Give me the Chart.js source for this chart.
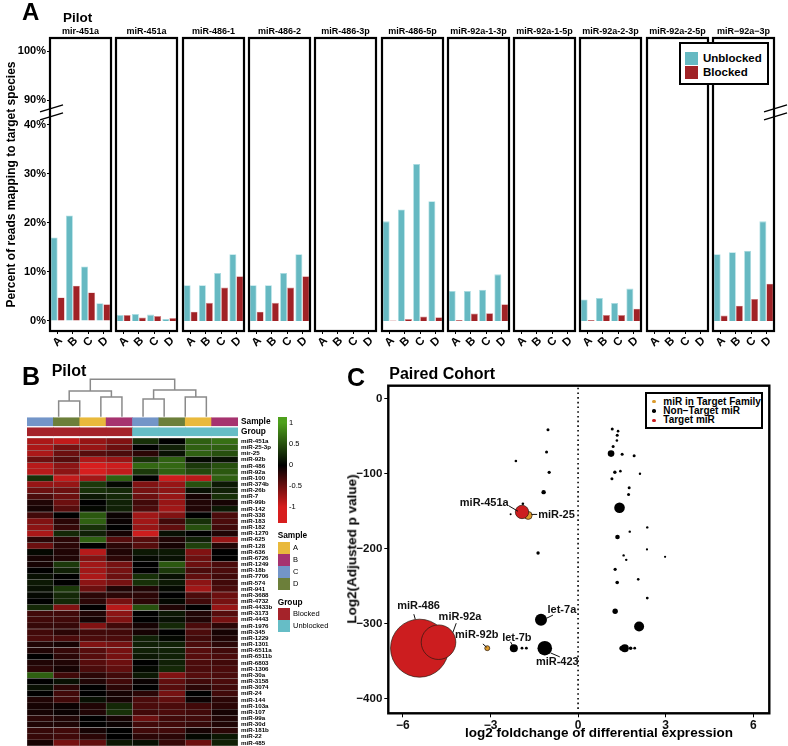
<!DOCTYPE html>
<html>
<head>
<meta charset="utf-8">
<title>Pilot / Paired Cohort</title>
<script src="https://cdn.jsdelivr.net/npm/chart.js@4.4.1/dist/chart.umd.min.js"></script>
<style>
  html, body { margin: 0; padding: 0; background: #fff; }
  body { position: relative; width: 788px; height: 746px; overflow: hidden;
         font-family: "Liberation Sans", Arial, Helvetica, sans-serif; color: #000; }
  canvas { position: absolute; }
  .txt { position: absolute; white-space: nowrap; line-height: 1; color: #000; }
  .box { position: absolute; box-sizing: border-box; border: 2px solid #000; background: #fff; }
  .sw { position: absolute; }
</style>
</head>
<body>
<script>
// ---------- A: percent of reads mapping to target species (pilot) ----------
const samples = ['A', 'B', 'C', 'D'];
const panelNames = ['mir-451a', 'miR-451a', 'miR-486-1', 'miR-486-2', 'miR-486-3p', 'miR-486-5p',
  'miR-92a-1-3p', 'miR-92a-1-5p', 'miR-92a-2-3p', 'miR-92a-2-5p', 'miR\u221292a\u22123p'];
const unblockedPct = [
  [17.0, 21.5, 11.1, 3.6], [1.2, 1.4, 1.3, 0.4], [7.3, 7.3, 9.8, 13.6], [7.3, 7.3, 9.8, 13.6],
  [0, 0, 0, 0], [20.3, 22.7, 32.0, 24.4], [6.1, 6.1, 6.35, 9.5], [0, 0, 0, 0],
  [4.4, 4.7, 3.65, 6.6], [0, 0, 0, 0], [13.6, 14.0, 14.3, 20.3]
];
const blockedPct = [
  [4.8, 7.2, 5.8, 3.4], [1.2, 0.7, 1.0, 0.6], [1.9, 3.7, 6.8, 9.1], [1.9, 3.7, 6.8, 9.1],
  [0, 0, 0, 0], [0.1, 0.4, 0.9, 0.75], [0.2, 1.5, 1.6, 3.4], [0, 0, 0, 0],
  [0.2, 1.2, 1.2, 2.5], [0, 0, 0, 0], [1.1, 3.1, 4.5, 7.6]
];
const pctTicks = [0, 10, 20, 30, 40, 90, 100];

// ---------- B: heatmap (pilot) ----------
const rowNames = ['miR-451a', 'miR-25-3p', 'mir-25', 'miR-92b', 'miR-486', 'miR-92a', 'miR-100', 'miR-374b',
  'miR-26b', 'miR-7', 'miR-99b', 'miR-142', 'miR-338', 'miR-183', 'miR-182', 'miR-1270', 'miR-625', 'miR-128',
  'miR-636', 'miR-6726', 'miR-1249', 'miR-18b', 'miR-7706', 'miR-574', 'miR-941', 'miR-3688', 'miR-4732',
  'miR-4433b', 'miR-3173', 'miR-4443', 'miR-1976', 'miR-345', 'miR-1229', 'miR-1301', 'miR-6511a', 'miR-6511b',
  'miR-6803', 'miR-1306', 'miR-30a', 'miR-3158', 'miR-3074', 'miR-24', 'miR-144', 'miR-103a', 'miR-107',
  'miR-99a', 'miR-30d', 'miR-181b', 'miR-22', 'miR-485'];
const heatValues = [
  [-0.8, -0.9, -0.7, -0.6, 0.3, 0, 0.6, 0.7],
  [-0.8, -0.55, -0.7, -0.5, 0, 0.2, 0.6, 0.6],
  [-0.8, -0.5, -0.4, -0.35, -0.2, 0.1, 0.6, 0.5],
  [-0.5, -0.4, -0.8, -0.7, 0.3, 0.6, 0.05, 0.1],
  [-0.85, -0.65, -1, -0.95, 0.65, 0.65, 0.35, 0.5],
  [-0.85, -0.65, -1, -0.9, 0.35, 0.6, 0.45, 0.55],
  [0.3, -0.9, -0.75, 0.6, 0, -0.95, -0.85, 0.6],
  [-0.7, -0.7, 0.35, 0.05, -0.6, -0.7, 0.5, 0.15],
  [-0.5, -0.5, 0.3, 0.25, -0.55, -0.65, 0.1, 0.2],
  [-0.35, -0.5, 0.15, 0.25, -0.5, -0.7, -0.1, 0.3],
  [-0.15, -0.5, 0, 0.2, -0.3, -0.7, -0.15, -0.1],
  [-0.1, -0.4, 0.05, 0.2, -0.35, -0.75, -0.15, 0.15],
  [-0.3, 0, 0.55, -0.05, -0.75, -0.6, 0, -0.35],
  [-0.6, -0.2, 0.6, -0.05, -0.75, -0.3, 0.3, -0.35],
  [-0.65, -0.25, 0.3, 0, -0.7, -0.45, 0.5, -0.3],
  [-0.8, 0.25, 0.2, -0.1, -0.95, 0.1, 0, -0.15],
  [-0.2, -0.2, 0.6, -0.4, -0.4, -0.15, 0.2, -0.7],
  [-0.5, -0.2, 0, -0.2, -0.4, -0.1, 0.4, -0.15],
  [0.05, -0.15, -0.85, -0.15, 0.15, 0.15, -0.6, 0],
  [-0.1, -0.15, -0.6, -0.2, 0.05, 0.1, -0.5, 0],
  [-0.1, 0.35, -0.75, -0.55, 0, 0.55, -0.5, -0.35],
  [0, 0.2, -0.75, -0.55, 0, 0.35, -0.35, -0.35],
  [0.1, 0, -0.8, -0.5, 0.3, 0.1, -0.45, -0.3],
  [0.15, 0, -0.65, -0.55, 0.3, 0.15, -0.65, -0.3],
  [0.1, 0.35, -0.5, -0.15, -0.15, 0.05, -0.75, -0.35],
  [0.05, 0.25, -0.2, -0.2, -0.2, 0, -0.35, -0.5],
  [0, 0.25, -0.2, -0.55, -0.2, 0.05, -0.3, -0.55],
  [0.25, -0.6, 0, -0.85, 0.5, -0.15, 0, -0.7],
  [-0.3, -0.3, -0.15, -0.65, 0, 0.15, -0.15, -0.4],
  [-0.3, -0.3, -0.1, -0.6, 0, 0.1, -0.15, -0.55],
  [-0.25, -0.25, -0.6, -0.3, -0.1, 0.25, -0.35, -0.2],
  [-0.3, -0.2, -0.3, -0.3, -0.1, 0, -0.35, -0.1],
  [-0.35, -0.35, -0.35, -0.35, 0.2, 0.05, -0.3, -0.15],
  [-0.15, -0.1, -0.6, -0.55, 0.2, 0.2, -0.35, -0.2],
  [-0.15, -0.25, -0.4, -0.55, 0.2, 0.2, -0.4, -0.3],
  [0, -0.2, -0.4, -0.55, 0.15, 0.2, -0.4, -0.35],
  [-0.15, -0.15, -0.4, -0.5, 0, 0.2, -0.35, -0.3],
  [-0.2, -0.1, -0.35, -0.45, 0.05, 0.25, -0.35, -0.35],
  [0.6, -0.3, -0.2, -0.3, 0.15, -0.6, -0.4, -0.35],
  [0, 0.1, -0.15, -0.3, -0.05, -0.45, -0.3, -0.35],
  [0.1, -0.2, 0, -0.2, 0, -0.4, -0.2, -0.3],
  [0, -0.3, 0, -0.1, -0.2, -0.55, 0, -0.3],
  [-0.15, -0.3, 0.1, -0.1, -0.35, -0.45, -0.05, -0.2],
  [-0.1, -0.05, -0.15, 0.25, -0.35, -0.35, -0.3, -0.2],
  [-0.1, -0.05, -0.15, 0.3, -0.3, -0.35, -0.3, -0.1],
  [-0.2, -0.15, 0, -0.1, -0.5, -0.3, -0.3, -0.15],
  [-0.15, -0.15, 0, -0.05, -0.3, -0.3, -0.25, -0.15],
  [-0.25, -0.3, -0.1, 0, -0.3, -0.3, -0.1, -0.2],
  [-0.25, -0.3, -0.2, 0, -0.2, -0.2, 0.05, 0.15],
  [-0.1, -0.55, -0.45, 0.15, 0.1, -0.25, -0.5, 0.2]
];
const columnSample = ['C', 'D', 'A', 'B', 'C', 'D', 'A', 'B'];
const columnGroup = ['Blocked', 'Blocked', 'Blocked', 'Blocked', 'Unblocked', 'Unblocked', 'Unblocked', 'Unblocked'];
// column dendrogram, hclust style: negative = leaf column, positive = earlier merge
const dendroMerge = [[-1, -2], [-3, -4], [1, 2], [-5, -6], [-7, -8], [4, 5], [3, 6]];
const dendroHeight = [15.7, 19.7, 25.7, 17.7, 19.7, 26.7, 37.4];
const colorbarTicks = [1, 0.5, 0, -0.5, -1];

// ---------- C: paired cohort ----------
const mirNames = ['', '', '', '', '', '', '', 'miR-25', 'miR-451a', '', '', '', '', '', '', '', '', '', '', '', '',
  '', '', '', '', '', '', '', '', '', '', '', '', '', '', '', '', 'let-7a', '', 'miR-486', 'miR-92a', 'miR-92b',
  'let-7b', '', '', 'miR-423', '', '', '', ''];
const log2FC = [-1.03, -1.08, -2.13, -0.99, -1.18, -1.89, -2.31, -1.71, -1.92, 1.17, 1.37, 1.34, 1.33, 1.2, 1.13,
  1.51, 1.92, 1.26, 1.45, 1.16, 2.12, 1.75, 1.73, 1.42, 2.37, 1.77, 1.35, -1.37, 2.36, 1.56, 2.98, 1.65, 1.27,
  2.06, 1.34, 2.37, 1.27, -1.27, 2.09, -5.43, -4.78, -3.11, -2.2, -1.92, -1.77, -1.14, 1.6, 1.5, 1.8, 1.94];
const log2Padj = [-41, -71, -83, -98, -124.5, -140, -154, -155.6, -151, -40, -43, -48.5, -55.6, -63.6, -73,
  -74, -76, -98, -96.5, -106.7, -100, -118.7, -127.6, -145.3, -171.6, -177.3, -184.5, -205.9, -201, -209, -211,
  -215, -227.6, -241, -245.3, -266, -283.6, -295, -304, -333, -325, -333, -333, -333, -333, -333, -333, -333,
  -333, -333];
const baseMean = [225, 225, 169, 256, 484, 169, 100, 1600, 4489, 225, 169, 225, 169, 225, 1089, 225, 225, 289,
  169, 225, 144, 225, 225, 2809, 144, 144, 529, 289, 121, 144, 121, 144, 256, 169, 324, 196, 729, 3600, 2500,
  84100, 29929, 625, 1600, 196, 196, 5329, 1600, 625, 324, 196];
const mirClass = ['n', 'n', 'n', 'n', 'n', 'n', 'n', 'f', 't', 'n', 'n', 'n', 'n', 'n', 'n', 'n', 'n', 'n', 'n',
  'n', 'n', 'n', 'n', 'n', 'n', 'n', 'n', 'n', 'n', 'n', 'n', 'n', 'n', 'n', 'n', 'n', 'n', 'n', 'n', 't', 't',
  'f', 'n', 'n', 'n', 'n', 'n', 'n', 'n', 'n'];

// ---------- styling ----------
const TEAL = '#66b9c2', TEAL_EDGE = '#a9dde2';
const RED = '#a02226', RED_EDGE = '#d88a8c';
const sampleColors = { A: '#e9b93c', B: '#a6336f', C: '#7395c8', D: '#6c7f3a' };
const groupColors = { Blocked: '#a5232a', Unblocked: '#66bdc6' };
const classColors = { t: '#cc1d1f', f: '#db9a2c', n: '#000000' };
const FONT = '"Liberation Sans", Arial, Helvetica, sans-serif';

Chart.defaults.font.family = FONT;
Chart.defaults.color = '#000';

function addCanvas(left, top, w, h) {
  const c = document.createElement('canvas');
  c.width = w; c.height = h;
  c.style.left = left + 'px'; c.style.top = top + 'px';
  c.style.width = w + 'px'; c.style.height = h + 'px';
  document.body.appendChild(c);
  return c;
}
function addText(text, x, y, size, opt = {}) {
  const d = document.createElement('div');
  d.className = 'txt';
  d.textContent = text;
  d.style.left = x + 'px'; d.style.top = y + 'px';
  d.style.fontSize = size + 'px';
  d.style.fontWeight = opt.weight || 'bold';
  const ax = opt.align === 'center' ? '-50%' : opt.align === 'right' ? '-100%' : '0';
  d.style.transform = `translate(${ax}, -50%)` + (opt.rotate ? ` rotate(${opt.rotate}deg)` : '');
  if (opt.z) d.style.zIndex = opt.z;
  document.body.appendChild(d);
  return d;
}
function addSwatch(x, y, w, h, bg, extra) {
  const d = document.createElement('div');
  d.className = 'sw';
  Object.assign(d.style, { left: x + 'px', top: y + 'px', width: w + 'px', height: h + 'px', background: bg }, extra || {});
  document.body.appendChild(d);
  return d;
}

const framePlugin = {
  id: 'frame',
  afterDraw(chart, args, opts) {
    const { ctx, chartArea: a } = chart;
    ctx.save();
    ctx.strokeStyle = '#000';
    ctx.lineWidth = opts.width || 2;
    ctx.strokeRect(a.left, a.top, a.right - a.left, a.bottom - a.top);
    ctx.restore();
  }
};

// ---------- panel A ----------
// broken y axis: values above the break are shifted down by 45 points
const toAxis = v => (v >= 90 ? v - 45 : v);
const fromAxis = v => (v > 42.5 ? v + 45 : v);

const breakPlugin = {
  id: 'axisBreak',
  afterDraw(chart, args, opts) {
    if (!opts.side) return;
    const { ctx, chartArea: a, scales: { y } } = chart;
    const ym = (y.getPixelForValue(40) + y.getPixelForValue(45)) / 2;
    const x = opts.side === 'left' ? a.left : a.right;
    ctx.save();
    ctx.strokeStyle = '#000';
    ctx.lineWidth = 1.5;
    [-4, 4].forEach(off => {
      ctx.beginPath();
      ctx.moveTo(x - 10, ym + off + 3.5);
      ctx.lineTo(x + 13, ym + off - 3.5);
      ctx.stroke();
    });
    ctx.restore();
  }
};

const PANEL_X0 = 50, PANEL_STEP = 66.3, PANEL_W = 61;
panelNames.forEach((name, i) => {
  const first = i === 0, last = i === panelNames.length - 1;
  const areaLeft = Math.round(PANEL_X0 + i * PANEL_STEP);
  const padL = first ? 0 : 8, axisW = first ? 50 : 0, padR = 16;
  const cv = addCanvas(areaLeft - padL - axisW, 15, padL + axisW + PANEL_W + padR, 345);
  new Chart(cv, {
    type: 'bar',
    data: {
      labels: samples,
      datasets: [
        { label: 'Unblocked', data: unblockedPct[i].map(toAxis), backgroundColor: TEAL,
          borderColor: TEAL_EDGE, borderWidth: 0.8 },
        { label: 'Blocked', data: blockedPct[i].map(toAxis), backgroundColor: RED,
          borderColor: RED_EDGE, borderWidth: 0.6 }
      ]
    },
    options: {
      responsive: false, animation: false, devicePixelRatio: 1, events: [],
      categoryPercentage: 0.92, barPercentage: 1,
      layout: { padding: { left: padL, right: padR, top: 11.1, bottom: 0 } },
      plugins: {
        legend: { display: false }, tooltip: { enabled: false },
        title: { display: true, text: name, fullSize: false, color: '#000',
                 font: { size: 9, weight: 'bold' }, padding: { top: 0, bottom: 1.1 } },
        frame: { width: 2.2 },
        axisBreak: { side: first ? 'left' : (last ? 'right' : null) }
      },
      scales: {
        x: {
          grid: { offset: false, drawOnChartArea: false, drawTicks: true, tickLength: 3, color: '#000' },
          border: { display: false },
          ticks: { minRotation: 45, maxRotation: 45, autoSkip: false, padding: 0, labelOffset: 3,
                   font: { size: 11.5, weight: 'bold' }, color: '#000' },
          afterFit: s => { s.height = 29; }
        },
        y: {
          display: first,
          min: -2.04, max: 57.65,
          afterBuildTicks: s => { s.ticks = pctTicks.map(v => ({ value: toAxis(v) })); },
          grid: { drawOnChartArea: false, drawTicks: true, tickLength: 3, color: '#000' },
          border: { display: false },
          ticks: { padding: 1, font: { size: 11, weight: 'bold' }, color: '#000',
                   callback: v => fromAxis(v) + '%' },
          title: { display: first, text: 'Percent of reads mapping to target species', color: '#000',
                   font: { size: 12, weight: 'bold' }, padding: { top: 4.5, bottom: 0 } },
          afterFit: s => { s.width = axisW; }
        }
      }
    },
    plugins: [framePlugin, breakPlugin]
  });
});

addText('A', 22, 11.5, 24);
addText('Pilot', 63, 18.3, 13.5);
const legA = document.createElement('div');
legA.className = 'box';
Object.assign(legA.style, { left: '679px', top: '42px', width: '90px', height: '43px', zIndex: 5 });
document.body.appendChild(legA);
addSwatch(685.3, 52.3, 13, 12.7, TEAL, { zIndex: 6 });
addSwatch(685.3, 66, 13, 13.3, RED, { zIndex: 6 });
addText('Unblocked', 703, 59.3, 11.5, { z: 6 });
addText('Blocked', 703, 72.8, 11.5, { z: 6 });

// ---------- panel B ----------
function heatColor(v) {
  const t = Math.min(1, Math.abs(v));
  const c = v >= 0 ? [78, 160, 28] : [215, 30, 30];
  return `rgb(${Math.round(c[0] * t)},${Math.round(c[1] * t)},${Math.round(c[2] * t)})`;
}
const colIds = columnSample.map((s, j) => columnGroup[j] + ' ' + s);
const hmSets = [];
const cellStyle = { type: 'bar', xAxisID: 'x', yAxisID: 'y', grouped: false, barPercentage: 1,
  categoryPercentage: 1, borderWidth: 0.5, borderColor: 'rgba(95,95,95,0.45)', borderSkipped: false };
hmSets.push(Object.assign({ label: 'Sample', data: columnSample.map(() => [-3.3, -2.0]),
  backgroundColor: columnSample.map(s => sampleColors[s]) }, cellStyle, { borderWidth: 0 }));
hmSets.push(Object.assign({ label: 'Group', data: columnGroup.map(() => [-1.67, -0.37]),
  backgroundColor: columnGroup.map(g => groupColors[g]) }, cellStyle, { borderWidth: 0 }));
heatValues.forEach((row, r) => {
  hmSets.push(Object.assign({ label: rowNames[r], data: row.map(() => [r, r + 1]),
    backgroundColor: row.map(heatColor) }, cellStyle));
});
// dendrogram links
const nodeX = [], nodeH = [];
const childPos = c => (c < 0 ? [-c - 1, 0] : [nodeX[c - 1], nodeH[c - 1]]);
dendroMerge.forEach(([a, b], k) => {
  const [xa, ha] = childPos(a), [xb, hb] = childPos(b), h = dendroHeight[k];
  nodeX.push((xa + xb) / 2); nodeH.push(h);
  hmSets.push({ type: 'line', xAxisID: 'xD', yAxisID: 'yD', label: 'node' + k,
    data: [{ x: xa, y: ha }, { x: xa, y: h }, { x: xb, y: h }, { x: xb, y: hb }],
    borderColor: '#8a8a8a', borderWidth: 1.5, pointRadius: 0, tension: 0, fill: false, clip: false });
});
const hmTicks = [{ value: -2.65, label: 'Sample' }, { value: -1.02, label: 'Group' }]
  .concat(rowNames.map((n, r) => ({ value: r + 0.5, label: n })));

new Chart(addCanvas(27, 376, 251, 370), {
  type: 'bar',
  data: { labels: colIds, datasets: hmSets },
  options: {
    responsive: false, animation: false, devicePixelRatio: 1, events: [],
    layout: { padding: 0 },
    plugins: { legend: { display: false }, tooltip: { enabled: false } },
    scales: {
      x: { display: false },
      y: {
        type: 'linear', position: 'right', reverse: true, min: -10.08, max: 50,
        afterBuildTicks: s => { s.ticks = hmTicks.map(t => ({ value: t.value })); },
        grid: { display: false, drawTicks: false }, border: { display: false },
        ticks: {
          autoSkip: false, padding: 3, color: '#000',
          font: c => (c.tick && c.tick.value < 0 ? { size: 8.3, weight: 'bold' } : { size: 6.2, weight: 'bold' }),
          callback: (v, idx) => hmTicks[idx].label
        },
        afterFit: s => { s.width = 40; s.paddingTop = 0; s.paddingBottom = 0; }
      },
      xD: { type: 'linear', axis: 'x', display: false, min: -0.5, max: 7.5 },
      yD: { type: 'linear', axis: 'y', display: false, min: -329.3, max: 40.7 }
    }
  }
});

addText('B', 22, 376, 25);
addText('Pilot', 51.7, 370.5, 16);
// colour key
addSwatch(277.7, 416.7, 9, 106, 'linear-gradient(to bottom, rgb(78,160,28) 0%, rgb(78,160,28) 5.3%, rgb(0,0,0) 45.6%, rgb(215,30,30) 85%, rgb(215,30,30) 100%)');
colorbarTicks.forEach(v => {
  addText(String(v), 289, 465 - v * 42.2, 7.5, { weight: 'normal' });
});
addText('Sample', 277.7, 535, 8.3);
['A', 'B', 'C', 'D'].forEach((s, k) => {
  addSwatch(277.7, 541.5 + k * 12.1, 12.5, 12.1, sampleColors[s]);
  addText(s, 293, 547.6 + k * 12.1, 7.5, { weight: 'normal' });
});
addText('Group', 277.7, 601.7, 8.3);
['Blocked', 'Unblocked'].forEach((g, k) => {
  addSwatch(277.7, 608 + k * 12.1, 12.5, 12.1, groupColors[g]);
  addText(g, 293, 614 + k * 12.1, 7.5, { weight: 'normal' });
});

// ---------- panel C ----------
const radiusOf = m => Math.sqrt(m) / 10;
function bubbleSet(cls, label) {
  const pts = [];
  mirClass.forEach((c, k) => {
    if (c === cls) pts.push({ x: log2FC[k], y: log2Padj[k], r: radiusOf(baseMean[k]), name: mirNames[k] });
  });
  return { label, data: pts, backgroundColor: classColors[cls],
    borderColor: cls === 'n' ? '#000' : '#2a1a10', borderWidth: cls === 'n' ? 0 : 0.7 };
}
const callouts = {
  'miR-451a': { dx: -13.3, dy: -8.7, align: 'right', line: [-13, -6, -4, -0.7] },
  'miR-25': { dx: 10, dy: 0, align: 'left', line: [3.4, -1, 9, -1] },
  'miR-486': { dx: -1, dy: -42.3, align: 'center', line: [-5.7, -34, -4.3, -29] },
  'miR-92a': { dx: 21.5, dy: -25.3, align: 'center', line: [17.7, -19, 14.3, -9.6] },
  'miR-92b': { dx: -10.5, dy: -13, align: 'center', line: [-4.4, -4.3, -0.7, -1] },
  'let-7b': { dx: 3, dy: -10, align: 'center', line: [-3.3, -6.3, -1.3, -2.7] },
  'let-7a': { dx: 20.9, dy: -9.7, align: 'center', line: [12, -4.7, 5.4, -1.4] },
  'miR-423': { dx: 12.5, dy: 13.7, align: 'center', line: [5.7, 4.7, 15, 8.7] }
};
const calloutPlugin = {
  id: 'callouts',
  afterDatasetsDraw(chart) {
    const { ctx, scales: { x, y } } = chart;
    ctx.save();
    ctx.font = 'bold 11px ' + FONT;
    ctx.textBaseline = 'middle';
    ctx.fillStyle = '#111';
    ctx.strokeStyle = '#111';
    ctx.lineWidth = 1;
    chart.data.datasets.forEach(ds => ds.data.forEach(p => {
      const s = callouts[p.name];
      if (!s) return;
      const px = x.getPixelForValue(p.x), py = y.getPixelForValue(p.y);
      ctx.beginPath();
      ctx.moveTo(px + s.line[0], py + s.line[1]);
      ctx.lineTo(px + s.line[2], py + s.line[3]);
      ctx.stroke();
      ctx.textAlign = s.align;
      ctx.fillText(p.name, px + s.dx, py + s.dy);
    }));
    ctx.restore();
  }
};
const zeroLinePlugin = {
  id: 'zeroLine',
  beforeDatasetsDraw(chart) {
    const { ctx, chartArea: a, scales: { x } } = chart;
    const px = x.getPixelForValue(0);
    ctx.save();
    ctx.strokeStyle = '#000';
    ctx.lineWidth = 1.6;
    ctx.setLineDash([1.6, 3.1]);
    ctx.beginPath();
    ctx.moveTo(px, a.top + 2);
    ctx.lineTo(px, a.bottom - 2);
    ctx.stroke();
    ctx.restore();
  }
};
const minus = v => String(v).replace('-', '\u2212');

// the bubble controller reserves its largest radius (29px) around the plot, so the
// canvas reaches 29px above and to the right of the frame
new Chart(addCanvas(345, 356, 454, 390), {
  type: 'bubble',
  data: { datasets: [bubbleSet('t', 'Target miR'), bubbleSet('f', 'miR in Target Family'), bubbleSet('n', 'Non\u2212Target miR')] },
  options: {
    responsive: false, animation: false, devicePixelRatio: 1, events: [],
    layout: { padding: { top: 29, right: 29, left: 0, bottom: 0 } },
    plugins: { legend: { display: false }, tooltip: { enabled: false }, frame: { width: 2.4 } },
    scales: {
      x: {
        type: 'linear', min: -6.5, max: 6.55,
        grid: { drawOnChartArea: false, drawTicks: true, tickLength: 4, color: '#000' },
        border: { display: false },
        ticks: { stepSize: 3, includeBounds: false, padding: 1, color: '#111',
                 font: { size: 12, weight: 'bold' }, callback: minus },
        afterFit: s => { s.height = 32.7; }
      },
      y: {
        type: 'linear', min: -420, max: 17.7,
        grid: { drawOnChartArea: false, drawTicks: true, tickLength: 4, color: '#000' },
        border: { display: false },
        ticks: { stepSize: 100, includeBounds: false, padding: 2, color: '#111',
                 font: { size: 11.5, weight: 'bold' }, callback: minus },
        afterFit: s => { s.width = 43.3; }
      }
    }
  },
  plugins: [framePlugin, zeroLinePlugin, calloutPlugin]
});

addText('C', 347, 377, 25);
addText('Paired Cohort', 389.3, 374, 16);
addText('log2 foldchange of differential expression', 599, 733.3, 13.5, { align: 'center' });
addText('Log2(Adjusted p value)', 352, 549, 13.5, { align: 'center', rotate: -90 });
const legC = document.createElement('div');
legC.className = 'box';
Object.assign(legC.style, { left: '645px', top: '391.7px', width: '118.3px', height: '37.6px' });
document.body.appendChild(legC);
[['miR in Target Family', 'f', 401.7], ['Non\u2212Target miR', 'n', 411], ['Target miR', 't', 420.3]].forEach(([t, c, yc]) => {
  addSwatch(652.2, yc - 1.8, 3.6, 3.6, classColors[c], { borderRadius: '50%' });
  addText(t, 663.3, yc, 10);
});
</script>
</body>
</html>
